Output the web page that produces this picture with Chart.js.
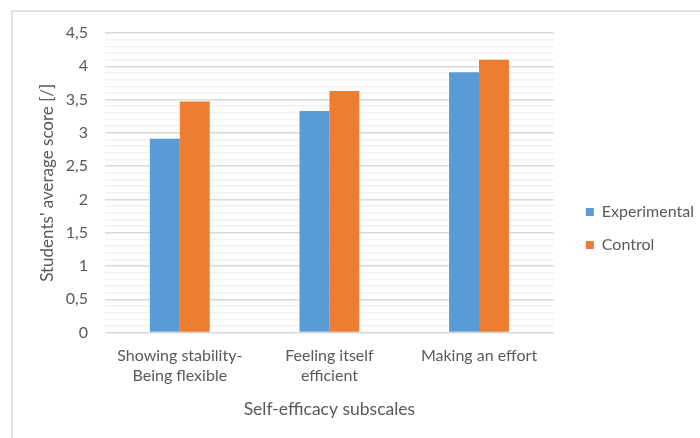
<!DOCTYPE html>
<html>
<head>
<meta charset="utf-8">
<script src="https://cdn.jsdelivr.net/npm/chart.js@4/dist/chart.umd.min.js"></script>
<style>
  html, body { margin: 0; padding: 0; background: #ffffff; }
  #wrap { width: 700px; height: 438px; position: relative; }
</style>
</head>
<body>
<div id="wrap"><canvas id="c" width="700" height="438"></canvas></div>
<script>
// Subscale names (multi-line labels) and average scores per group
const categories = [
  ['Showing stability-', 'Being flexible'],
  ['Feeling itself', 'efficient'],
  'Making an effort'
];
const experimental = [2.91, 3.33, 3.91];
const control = [3.47, 3.63, 4.10];
const seriesNames = ['Experimental', 'Control'];

const TEXT = '#595959';
const FONT = 'Lato, "Liberation Sans", sans-serif';

// Thin light frame around the chart
const framePlugin = {
  id: 'frame',
  beforeDraw(chart) {
    const ctx = chart.ctx;
    ctx.save();
    ctx.fillStyle = '#ffffff';
    ctx.fillRect(0, 0, chart.width, chart.height);
    ctx.strokeStyle = '#d9d9d9';
    ctx.lineWidth = 1.5;
    ctx.beginPath();
    ctx.moveTo(12, chart.height);
    ctx.lineTo(12, 11);
    ctx.lineTo(chart.width, 11);
    ctx.stroke();
    ctx.restore();
  }
};

// Leave a wider gap between the plot and the legend entries
const legendShift = {
  id: 'legendShift',
  afterUpdate(chart) {
    const lg = chart.legend;
    if (lg) { lg.left += 15; lg.right += 15; lg.top += 2; lg.bottom += 2; }
  }
};

new Chart(document.getElementById('c'), {
  type: 'bar',
  data: {
    labels: categories,
    datasets: [
      { label: seriesNames[0], data: experimental, backgroundColor: '#5B9BD5' },
      { label: seriesNames[1], data: control, backgroundColor: '#ED7D31' }
    ]
  },
  options: {
    responsive: false,
    animation: false,
    devicePixelRatio: 1,
    layout: { padding: { top: 33, left: 37, right: 11, bottom: 18 } },
    datasets: { bar: { categoryPercentage: 0.4, barPercentage: 1.0 } },
    plugins: {
      legend: {
        position: 'right',
        labels: {
          boxWidth: 8, boxHeight: 8, padding: 17,
          color: TEXT, font: { family: FONT, size: 16 }
        }
      },
      tooltip: { enabled: false }
    },
    scales: {
      x: {
        grid: { display: false, drawTicks: false },
        border: { display: false },
        ticks: { color: TEXT, font: { family: FONT, size: 16 }, padding: 14, maxRotation: 0 },
        title: { display: true, text: 'Self-efficacy subscales', color: TEXT, font: { family: FONT, size: 17.5 }, padding: { top: 0, bottom: 0 } }
      },
      y: {
        min: 0, max: 4.5,
        border: { display: false },
        afterFit: (scale) => { scale.width = 68; },
        grid: {
          drawTicks: false,
          lineWidth: 1.5,
          color: (c) => {
            const v = c.tick ? c.tick.value : 0;
            return Math.abs(v * 2 - Math.round(v * 2)) < 1e-6 ? '#d9d9d9' : '#f2f2f2';
          }
        },
        ticks: {
          stepSize: 0.1, autoSkip: false, padding: 17,
          color: TEXT, font: { family: FONT, size: 16 },
          callback: (v) => {
            if (Math.abs(v * 2 - Math.round(v * 2)) > 1e-6) return '';
            return String(Math.round(v * 2) / 2).replace('.', ',');
          }
        },
        title: { display: true, text: "Students' average score [/]", color: TEXT, font: { family: FONT, size: 17 }, padding: { top: 0, bottom: 0 } }
      }
    }
  },
  plugins: [framePlugin, legendShift]
});
</script>
</body>
</html>
